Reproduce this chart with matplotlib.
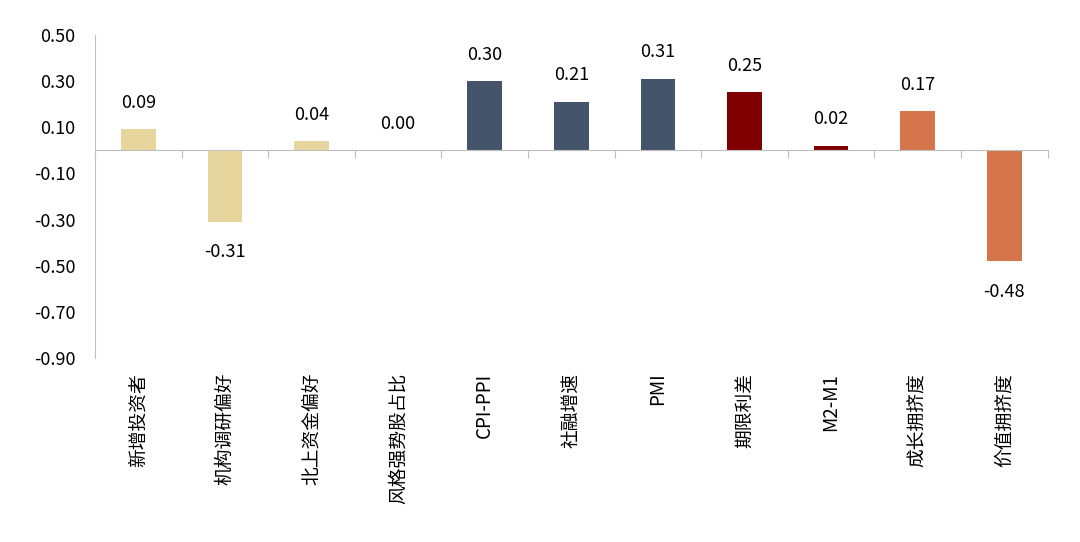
import matplotlib
matplotlib.use("Agg")
import matplotlib.pyplot as plt
import matplotlib.transforms as mtransforms
import numpy as np

plt.rcParams["font.family"] = ["Noto Sans CJK SC", "DejaVu Sans"]

categories = ["新增投资者", "机构调研偏好", "北上资金偏好", "风格强势股占比", "CPI-PPI",
              "社融增速", "PMI", "期限利差", "M2-M1", "成长拥挤度", "价值拥挤度"]
values = [0.09, -0.31, 0.04, 0.00, 0.30, 0.21, 0.31, 0.25, 0.02, 0.17, -0.48]
colors = ["#E6D59C", "#E6D59C", "#E6D59C", "#E6D59C", "#44546A", "#44546A",
          "#44546A", "#800000", "#800000", "#D4754B", "#D4754B"]
y_ticks = [0.50, 0.30, 0.10, -0.10, -0.30, -0.50, -0.70, -0.90]

fig = plt.figure(figsize=(10.8, 5.42), dpi=100)
ax = fig.add_axes([0.088, 0.339, 0.882, 0.597])

x = np.arange(len(categories))
ax.bar(x, values, width=0.4, color=colors, zorder=2)

ax.set_xlim(-0.5, len(categories) - 0.5)
ax.set_ylim(-0.9, 0.5)
ax.set_yticks(y_ticks)
ax.set_yticklabels([f"{v:.2f}" for v in y_ticks], fontsize=13)
ax.tick_params(axis="y", length=0, pad=14)

grey = "#BFBFBF"
for s in ["top", "right"]:
    ax.spines[s].set_visible(False)
ax.spines["left"].set_color(grey)
ax.spines["bottom"].set_color(grey)
ax.spines["bottom"].set_position(("data", 0))
ax.set_xticks(np.arange(-0.5, len(categories), 1.0))
ax.set_xticklabels([])
ax.tick_params(axis="x", direction="out", length=6, color=grey)

# value labels
for xi, v in zip(x, values):
    if v < 0:
        ax.annotate(f"{v:.2f}", (xi, v), xytext=(0, -22), textcoords="offset points",
                    ha="center", va="center", fontsize=13)
    else:
        ax.annotate(f"{v:.2f}", (xi, v), xytext=(0, 19), textcoords="offset points",
                    ha="center", va="center", fontsize=13)

# category labels along the bottom
trans = mtransforms.blended_transform_factory(ax.transData, ax.transAxes)
for xi, name in zip(x, categories):
    ax.text(xi, -0.045, name, transform=trans, rotation=90, ha="center", va="top",
            fontsize=13.5)

fig.savefig("out.png", dpi=100)
